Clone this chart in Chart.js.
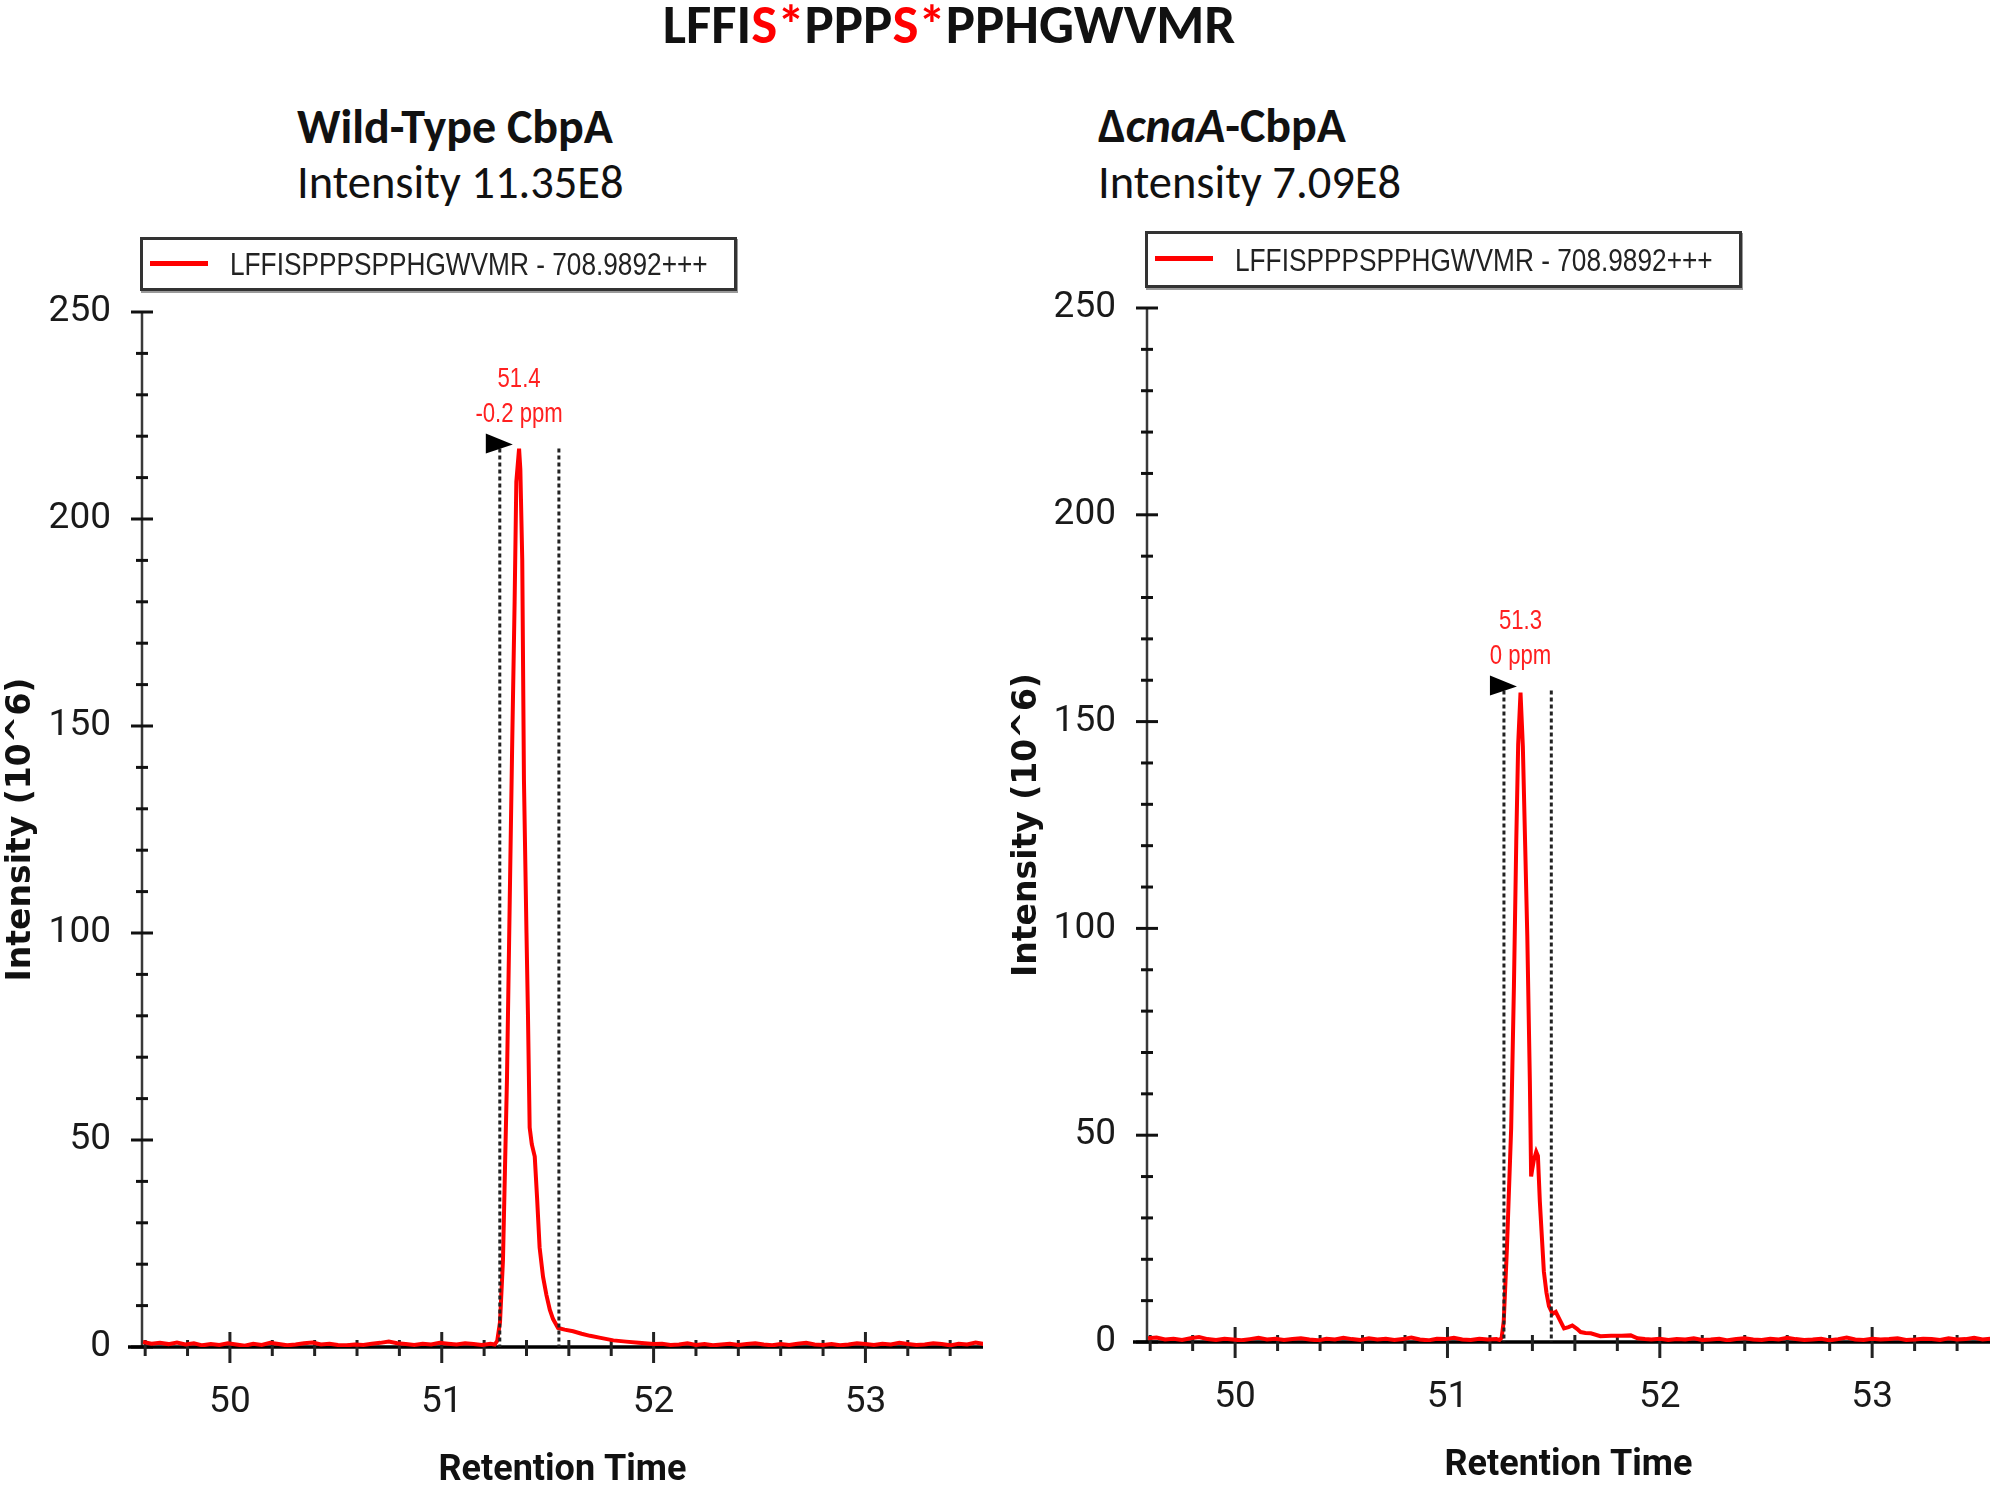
<!DOCTYPE html>
<html>
<head>
<meta charset="utf-8">
<title>LFFIS*PPPS*PPHGWVMR XIC</title>
<script src="https://cdn.jsdelivr.net/npm/chart.js@4.4.1/dist/chart.umd.min.js"></script>
<style>
  body { margin: 0; background: #fff; }
  #page { position: relative; width: 2000px; height: 1492px; overflow: hidden; background: #fff; }
  .cal { font-family: Carlito, Calibri, Lato, "Open Sans", sans-serif; color: #111; }
  .main-title { position: absolute; left: 0; top: -3px; width: 1898px; text-align: center; font-size: 55px; line-height: 1; font-weight: bold; }
  .red { color: #ff0000; }
  .sub { position: absolute; line-height: 1; white-space: nowrap; }
  .sub.b { font-weight: bold; font-size: 48px; }
  .sub.r { font-size: 46.5px; }
  .legend { position: absolute; box-sizing: border-box; width: 597px; border: 3px solid #333; background: #fff; box-shadow: 1px 2px 0 #9a9a9a; z-index: 2; }
  .legend .swatch { position: absolute; left: 7px; width: 58px; height: 5px; background: #ff0000; }
  .legend .txt { position: absolute; left: 87px; font-family: "Liberation Sans", Arial, sans-serif; font-size: 32px; line-height: 1; color: #222; white-space: nowrap; transform: scaleX(0.82); transform-origin: 0 50%; }
  .panel { position: absolute; top: 0; height: 1492px; }
</style>
</head>
<body>
<div id="page">
  <div class="main-title cal">LFFI<span class="red">S*</span>PPP<span class="red">S*</span>PPHGWVMR</div>

  <div class="sub b cal" style="left:297px; top:103px;">Wild-Type CbpA</div>
  <div class="sub r cal" style="left:297px; top:159px;">Intensity 11.35E8</div>
  <div class="sub b cal" style="left:1098px; top:102px;">&Delta;<i>cnaA</i>-CbpA</div>
  <div class="sub r cal" style="left:1098px; top:159px;">Intensity 7.09E8</div>

  <div class="legend" style="left:140px; top:237px; height:54px;">
    <div class="swatch" style="top:21px;"></div>
    <div class="txt" style="top:8px;">LFFISPPPSPPHGWVMR - 708.9892+++</div>
  </div>
  <div class="legend" style="left:1145px; top:231px; height:57px;">
    <div class="swatch" style="top:22px;"></div>
    <div class="txt" style="top:10px;">LFFISPPPSPPHGWVMR - 708.9892+++</div>
  </div>

  <div class="panel" style="left:0; width:1000px;"><canvas id="wtChart"></canvas></div>
  <div class="panel" style="left:1005px; width:995px;"><canvas id="mutChart"></canvas></div>
</div>

<script>
// Wild-type CbpA trace (retention time in min, intensity in 10^6)
const wtTime = [
  49.59, 49.63, 49.67, 49.71, 49.75, 49.79, 49.83, 49.87, 49.91, 49.95, 49.99,
  50.03, 50.07, 50.11, 50.15, 50.19, 50.23, 50.27, 50.31, 50.35, 50.39, 50.43,
  50.47, 50.51, 50.55, 50.59, 50.63, 50.67, 50.71, 50.75, 50.79, 50.83, 50.87,
  50.91, 50.95, 50.99, 51.03, 51.07, 51.11, 51.15, 51.19, 51.23,
  51.25, 51.262, 51.275, 51.289, 51.298, 51.308, 51.321, 51.332, 51.344, 51.352,
  51.365, 51.371, 51.38, 51.388, 51.40, 51.407, 51.415, 51.425, 51.439, 51.45,
  51.462, 51.478, 51.494, 51.51, 51.525, 51.549, 51.58, 51.62, 51.66, 51.70,
  51.75, 51.81, 51.87, 51.93,
  52.00, 52.04, 52.08, 52.12, 52.16, 52.20, 52.24, 52.28, 52.32, 52.36, 52.40,
  52.44, 52.48, 52.52, 52.56, 52.60, 52.64, 52.68, 52.72, 52.76, 52.80, 52.84,
  52.88, 52.92, 52.96, 53.00, 53.04, 53.08, 53.12, 53.16, 53.20, 53.24, 53.28,
  53.32, 53.36, 53.40, 53.44, 53.48, 53.52, 53.56
];
const wtIntensity = [
  1.2, 0.8, 1.0, 0.7, 1.1, 0.6, 0.9, 0.4, 0.7, 0.5, 0.9,
  0.6, 0.3, 0.8, 0.5, 1.0, 0.7, 0.4, 0.6, 0.9, 1.1, 0.6,
  0.8, 0.5, 0.4, 0.6, 0.5, 0.8, 1.0, 1.3, 0.9, 0.7, 0.5,
  0.8, 0.6, 1.0, 0.8, 0.6, 0.9, 0.7, 0.5, 0.8,
  0.6, 1.5, 6, 21, 42, 65, 108, 144, 180, 209,
  217, 212, 190, 137, 100, 80, 53, 49, 46, 36,
  24, 17, 12.6, 9, 6.8, 4.6, 4.2, 3.8, 3.2, 2.7,
  2.2, 1.6, 1.3, 1.0,
  0.7, 0.8, 0.5, 0.6, 0.9, 0.5, 0.7, 0.4, 0.6, 0.8, 0.5,
  0.7, 0.9, 0.6, 0.4, 0.7, 0.5, 0.8, 1.0, 0.6, 0.5, 0.7,
  0.4, 0.6, 0.9, 0.7, 0.5, 0.8, 0.6, 1.0, 0.7, 0.5, 0.6,
  0.9, 0.7, 0.4, 0.8, 0.6, 1.1, 0.7
];

// ΔcnaA-CbpA trace
const mutTime = [
  49.59, 49.63, 49.67, 49.71, 49.75, 49.79, 49.83, 49.87, 49.91, 49.95, 49.99,
  50.03, 50.07, 50.11, 50.15, 50.19, 50.23, 50.27, 50.31, 50.35, 50.39, 50.43,
  50.47, 50.51, 50.55, 50.59, 50.63, 50.67, 50.71, 50.75, 50.79, 50.83, 50.87,
  50.91, 50.95, 50.99, 51.03, 51.07, 51.11, 51.15, 51.19, 51.23,
  51.245, 51.255, 51.265, 51.28, 51.30, 51.313, 51.324, 51.333, 51.344, 51.355,
  51.366, 51.376, 51.388, 51.394, 51.40, 51.407, 51.418, 51.426, 51.435, 51.445,
  51.454, 51.466, 51.478, 51.495, 51.51, 51.53, 51.549, 51.57, 51.588, 51.61,
  51.627, 51.65, 51.675, 51.72, 51.77, 51.82, 51.863, 51.895, 51.93, 51.96,
  52.00, 52.04, 52.08, 52.12, 52.16, 52.20, 52.24, 52.28, 52.32, 52.36, 52.40,
  52.44, 52.48, 52.52, 52.56, 52.60, 52.64, 52.68, 52.72, 52.76, 52.80, 52.84,
  52.88, 52.92, 52.96, 53.00, 53.04, 53.08, 53.12, 53.16, 53.20, 53.24, 53.28,
  53.32, 53.36, 53.40, 53.44, 53.48, 53.52, 53.56
];
const mutIntensity = [
  0.9, 1.1, 0.6, 0.8, 0.5, 0.9, 1.2, 0.7, 0.5, 0.8, 0.6,
  0.4, 0.7, 1.0, 0.6, 0.8, 0.5, 0.7, 0.9, 0.6, 0.4, 0.8,
  0.6, 1.0, 0.7, 0.5, 0.9, 0.6, 0.8, 0.5, 0.7, 1.1, 0.6,
  0.4, 0.8, 0.7, 1.0, 0.6, 0.5, 0.8, 0.6, 0.7,
  0.5, 1, 5, 22.6, 51.7, 86, 121, 144.5, 157, 144,
  120, 98, 63, 40, 42, 44, 46, 45, 34, 25,
  17, 12, 8.7, 6.8, 7.3, 5.2, 3.3, 3.6, 4, 3.2,
  2.4, 2.2, 2.1, 1.4, 1.5, 1.5, 1.6, 0.9, 0.7, 0.6,
  0.8, 0.5, 0.7, 0.6, 0.9, 0.5, 0.6, 0.8, 0.4, 0.7, 0.9,
  0.6, 0.5, 0.8, 0.6, 1.0, 0.7, 0.5, 0.6, 0.8, 0.4, 0.7,
  1.1, 0.6, 0.5, 0.8, 0.6, 0.7, 0.9, 0.5, 0.6, 0.8, 0.7,
  0.5, 0.9, 0.6, 0.7, 1.0, 0.6, 0.8
];

// peak integration bounds, apex and its label
const wtBounds = [51.274, 51.553];
const wtApex = [51.365, 217];
const wtPeakLabel = ["51.4", "-0.2 ppm"];
const mutBounds = [51.266, 51.489];
const mutApex = [51.344, 157.5];
const mutPeakLabel = ["51.3", "0 ppm"];

const yTickStep = 10;
const xTickStep = 0.2;
const xRange = [49.585, 53.555];
const yRange = [0, 250];

const tickFont = "Roboto, 'Liberation Sans', sans-serif";

function isWhole(v) {
  return Math.abs(v - Math.round(v)) < 1e-6;
}

// axes with ticks crossing the axis line, like the Xcalibur export
const chromAxes = {
  id: "chromAxes",
  beforeDatasetsDraw(chart) {
    const { ctx, chartArea: a, scales: { x, y } } = chart;
    ctx.save();
    ctx.lineCap = "butt";
    ctx.strokeStyle = "#3a3a3a";
    ctx.lineWidth = 2.5;
    ctx.beginPath();
    ctx.moveTo(a.left, y.getPixelForValue(yRange[1]));
    ctx.lineTo(a.left, a.bottom);
    ctx.stroke();

    ctx.strokeStyle = "#111";
    ctx.lineWidth = 3;
    y.ticks.forEach((t) => {
      const py = y.getPixelForValue(t.value);
      const h = t.value % 50 === 0 ? 11 : 6;
      ctx.beginPath();
      ctx.moveTo(a.left - h, py);
      ctx.lineTo(a.left + h, py);
      ctx.stroke();
    });

    ctx.strokeStyle = "#000";
    ctx.lineWidth = 3.5;
    ctx.beginPath();
    ctx.moveTo(a.left - 14, a.bottom);
    ctx.lineTo(a.right, a.bottom);
    ctx.stroke();

    ctx.lineWidth = 3;
    ctx.strokeStyle = "#222";
    x.ticks.forEach((t) => {
      const px = x.getPixelForValue(t.value);
      const major = isWhole(t.value);
      ctx.beginPath();
      ctx.moveTo(px, a.bottom - (major ? 15 : 7));
      ctx.lineTo(px, a.bottom + (major ? 16 : 9));
      ctx.stroke();
    });
    ctx.restore();
  },
  afterDatasetsDraw(chart, args, opts) {
    const { ctx, scales: { x, y } } = chart;
    const top = y.getPixelForValue(opts.apex[1]);
    const base = y.getPixelForValue(0);
    ctx.save();
    // dashed integration limits
    ctx.strokeStyle = "#222";
    ctx.lineWidth = 3;
    ctx.setLineDash([4, 3]);
    opts.bounds.forEach((b) => {
      const px = x.getPixelForValue(b);
      ctx.beginPath();
      ctx.moveTo(px, top);
      ctx.lineTo(px, base);
      ctx.stroke();
    });
    ctx.setLineDash([]);
    // start marker
    const bx = x.getPixelForValue(opts.bounds[0]);
    ctx.fillStyle = "#000";
    ctx.beginPath();
    ctx.moveTo(bx - 14, top - 15);
    ctx.lineTo(bx + 13, top - 4);
    ctx.lineTo(bx - 14, top + 5);
    ctx.closePath();
    ctx.fill();
    // apex label, condensed like the original export
    const ax = x.getPixelForValue(opts.apex[0]);
    ctx.fillStyle = "#ff2020";
    ctx.font = "27px 'Liberation Sans', Arial, sans-serif";
    ctx.textAlign = "center";
    ctx.textBaseline = "middle";
    ctx.translate(ax, top);
    ctx.scale(0.82, 1);
    ctx.fillText(opts.label[0], 0, -69);
    ctx.fillText(opts.label[1], 0, -34);
    ctx.restore();
  }
};

function buildChart(canvasId, times, values, marks, box) {
  const points = times.map((t, i) => ({ x: t, y: values[i] }));
  return new Chart(document.getElementById(canvasId), {
    type: "line",
    data: {
      datasets: [{
        data: points,
        borderColor: "#ff0000",
        borderWidth: 4,
        pointRadius: 0,
        tension: 0,
        fill: false
      }]
    },
    options: {
      responsive: true,
      maintainAspectRatio: false,
      animation: false,
      events: [],
      layout: { padding: { top: box.top, right: box.right, bottom: 0, left: 0 } },
      plugins: {
        legend: { display: false },
        tooltip: { enabled: false },
        chromAxes: marks
      },
      scales: {
        x: {
          type: "linear",
          min: xRange[0],
          max: xRange[1],
          grid: { display: false, drawTicks: false },
          border: { display: false },
          afterFit: (s) => { s.height = box.xHeight; },
          ticks: {
            stepSize: xTickStep,
            includeBounds: false,
            autoSkip: false,
            maxRotation: 0,
            padding: 34,
            color: "#1a1a1a",
            font: { family: tickFont, size: 37 },
            callback: (v) => (isWhole(v) ? String(Math.round(v)) : "")
          },
          title: {
            display: true,
            text: "Retention Time",
            color: "#111",
            padding: { top: 0, bottom: box.xTitlePad },
            font: { family: tickFont, size: 36, weight: "bold" }
          }
        },
        y: {
          min: yRange[0],
          max: yRange[1],
          grid: { display: false, drawTicks: false },
          border: { display: false },
          afterFit: (s) => { s.width = 142; },
          ticks: {
            stepSize: yTickStep,
            autoSkip: false,
            padding: 31,
            color: "#1a1a1a",
            font: { family: tickFont, size: 37 },
            callback: (v) => (v % 50 === 0 ? String(v) : "")
          },
          title: {
            display: true,
            text: "Intensity (10^6)",
            color: "#111",
            padding: { top: box.yTitlePad, bottom: 0 },
            font: { family: "'DejaVu Sans', sans-serif", size: 33, weight: "bold" }
          }
        }
      }
    },
    plugins: [chromAxes]
  });
}

buildChart("wtChart", wtTime, wtIntensity,
  { bounds: wtBounds, apex: wtApex, label: wtPeakLabel },
  { top: 312, right: 17, xHeight: 145, xTitlePad: -1, yTitlePad: 2 });

buildChart("mutChart", mutTime, mutIntensity,
  { bounds: mutBounds, apex: mutApex, label: mutPeakLabel },
  { top: 308, right: 10, xHeight: 150, xTitlePad: 4, yTitlePad: 3 });
</script>
</body>
</html>
